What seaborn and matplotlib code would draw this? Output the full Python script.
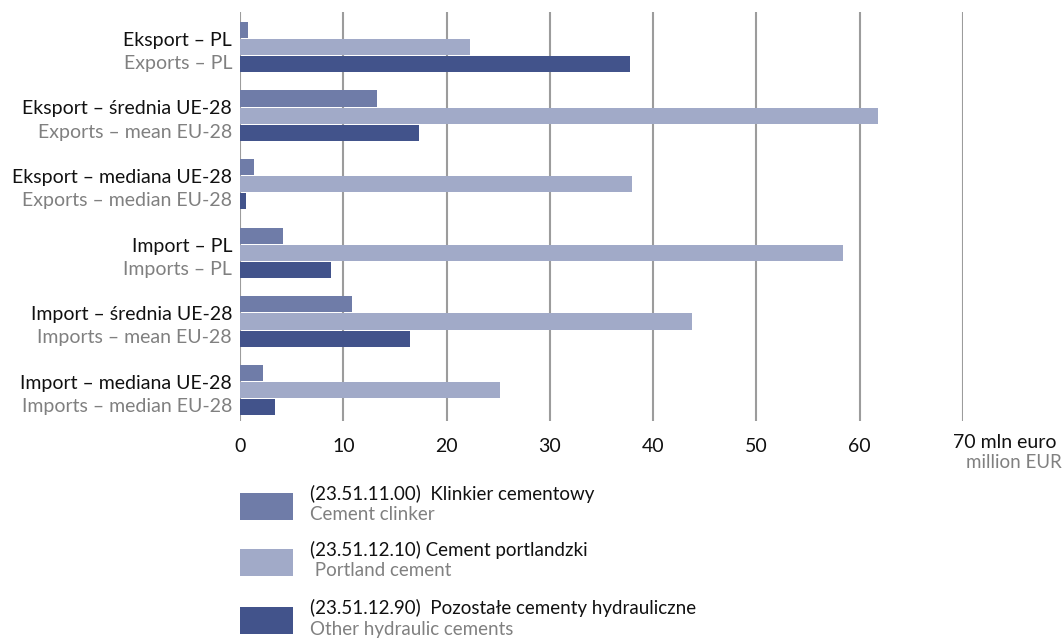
import matplotlib
matplotlib.use("Agg")
import matplotlib.pyplot as plt
import matplotlib.transforms as mtransforms
from matplotlib.patches import Rectangle
import pandas as pd
import seaborn as sns

# ============================================================
# DATA (million EUR)
# ============================================================

labels_pl = ["Eksport – PL", "Eksport – średnia UE-28", "Eksport – mediana UE-28",
             "Import – PL", "Import – średnia UE-28", "Import – mediana UE-28"]
labels_en = ["Exports – PL", "Exports – mean EU-28", "Exports – median EU-28",
             "Imports – PL", "Imports – mean EU-28", "Imports – median EU-28"]

clinker = [0.8, 13.3, 1.4, 4.2, 10.8, 2.2]
portland = [22.3, 61.8, 38.0, 58.4, 43.8, 25.2]
other = [37.8, 17.3, 0.6, 8.8, 16.5, 3.4]

products = ["clinker", "portland", "other"]
legend_pl = ["(23.51.11.00)  Klinkier cementowy",
             "(23.51.12.10) Cement portlandzki",
             "(23.51.12.90)  Pozostałe cementy hydrauliczne"]
legend_en = ["Cement clinker", " Portland cement", "Other hydraulic cements"]
colors = ["#6F7CA8", "#A1AAC8", "#42538B"]

xticks = [0, 10, 20, 30, 40, 50, 60, 70]

df = pd.DataFrame({
    "category": labels_pl * 3,
    "product": [p for p in products for _ in labels_pl],
    "value": clinker + portland + other,
})

# ============================================================
# PLOT
# ============================================================

sns.set_theme(style="white")
plt.rcParams["font.family"] = ["Lato", "DejaVu Sans"]

FS = 14
fig = plt.figure(figsize=(10.64, 6.38), dpi=100)
ax = fig.add_axes([240 / 1064, 1 - 421 / 638, 723 / 1064, 409 / 638])

sns.barplot(data=df, y="category", x="value", hue="product", order=labels_pl,
            hue_order=products, palette=colors, orient="h", width=0.75,
            gap=0.06, linewidth=0, saturation=1, legend=False, ax=ax)

ax.set_xlim(0, 70)
ax.set_ylim(5.45, -0.51)
ax.set_xticks(xticks)
ax.set_xticklabels([str(t) for t in xticks[:-1]] + [""], fontsize=FS, color="#111111")
ax.tick_params(axis="x", length=0, pad=12)
ax.set_yticks([])
ax.set_xlabel("")
ax.set_ylabel("")
for s in ax.spines.values():
    s.set_visible(False)
ax.set_axisbelow(True)
ax.grid(axis="x", color="#9c9c9c", linewidth=1.5)
ax.grid(axis="y", visible=False)

# two-line category labels (Polish / English)
trans = mtransforms.blended_transform_factory(ax.transAxes, ax.transData)
for i, (pl, en) in enumerate(zip(labels_pl, labels_en)):
    ax.text(-0.011, i - 0.10, pl, transform=trans, ha="right", va="center",
            fontsize=FS, color="#111111")
    ax.text(-0.011, i + 0.24, en, transform=trans, ha="right", va="center",
            fontsize=FS, color="#808080")

# unit label at the end of the axis
fig.text(953 / 1064, 1 - 442 / 638, "70 mln euro", ha="left", va="center",
         fontsize=FS, color="#111111")
fig.text(1062 / 1064, 1 - 462 / 638, "million EUR", ha="right", va="center",
         fontsize=FS - 0.5, color="#808080")

# legend below the chart
squares_top = [493, 549, 607]
for top, c, pl, en in zip(squares_top, colors, legend_pl, legend_en):
    fig.add_artist(Rectangle((240 / 1064, 1 - (top + 27) / 638), 53 / 1064, 27 / 638,
                             transform=fig.transFigure, color=c, lw=0))
    fig.text(310 / 1064, 1 - (top + 1) / 638, pl, ha="left", va="center",
             fontsize=13.5, color="#111111")
    fig.text(310 / 1064, 1 - (top + 22) / 638, en, ha="left", va="center",
             fontsize=13.5, color="#808080")

fig.savefig("out.png", dpi=100)
